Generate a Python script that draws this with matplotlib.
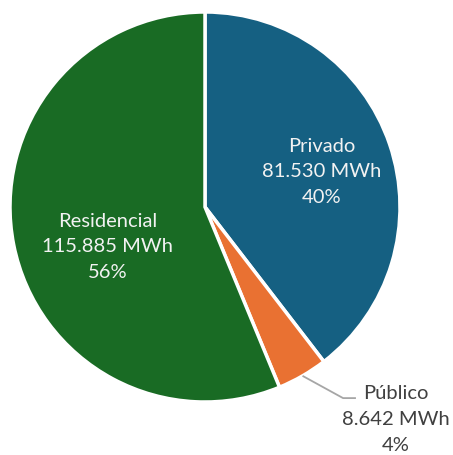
import numpy as np
import matplotlib.pyplot as plt

# consumo por sector
sectores = ['Privado', 'Público', 'Residencial']
consumo_mwh = [81530, 8642, 115885]
etiquetas_mwh = ['81.530 MWh', '8.642 MWh', '115.885 MWh']
porcentajes = ['40%', '4%', '56%']
colores = ['#156082', '#E97132', '#196B24']

plt.rcParams['font.family'] = ['Lato', 'DejaVu Sans']

fig = plt.figure(figsize=(4.53, 4.55), dpi=100)
ax = fig.add_axes([0, 0, 1, 1])

R = 195.0  # radio en pixeles
wedges, _ = ax.pie(consumo_mwh, colors=colores, startangle=90, counterclock=False,
                   radius=1.0, wedgeprops=dict(edgecolor='white', linewidth=2.5))

ax.set_xlim(-205 / R, 248 / R)
ax.set_ylim(-248 / R, 207 / R)
ax.set_aspect('equal')
ax.axis('off')

def texto(i):
    return f'{sectores[i]}\n{etiquetas_mwh[i]}\n{porcentajes[i]}'

fs = 14.5
ls = 1.62

# etiquetas interiores
ax.text(0.60, 0.18, texto(0), ha='center', va='center', color='#F2F2F2',
        fontsize=fs, linespacing=ls)
ax.text(-0.50, -0.205, texto(2), ha='center', va='center', color='#F2F2F2',
        fontsize=fs, linespacing=ls)

# etiqueta exterior con linea guia
w = wedges[1]
mid = np.deg2rad((w.theta1 + w.theta2) / 2)
x0, y0 = np.cos(mid), np.sin(mid)
ax.plot([x0, 0.708, 0.774], [y0, -0.98, -0.98], color='#A6A6A6', lw=1.3,
        solid_capstyle='butt')
ax.text(0.98, -1.09, texto(1), ha='center', va='center', color='#404040',
        fontsize=fs, linespacing=ls)

fig.savefig('out.png', dpi=100, facecolor='white')
